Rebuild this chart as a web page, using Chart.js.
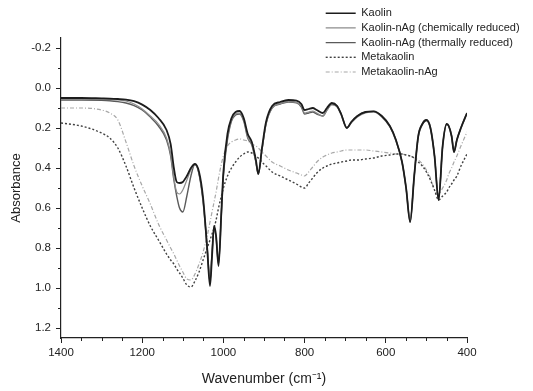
<!DOCTYPE html>
<html>
<head>
<meta charset="utf-8">
<script src="https://cdn.jsdelivr.net/npm/chart.js@4/dist/chart.umd.min.js"></script>
<style>
    html, body { margin: 0; padding: 0; background: #fff; }
    #wrap { width: 533px; height: 391px; }
</style>
</head>
<body>
<div id="wrap"><canvas id="irChart" width="533" height="391"></canvas></div>
<script>
const wavenumbers = [1400, 1350, 1300, 1280, 1260, 1240, 1220, 1200, 1180, 1160,
    1140, 1130, 1122, 1115, 1108, 1100, 1090, 1080, 1070, 1060,
    1050, 1040, 1033, 1028, 1023, 1018, 1012, 1005, 1000, 990,
    980, 970, 960, 950, 940, 930, 920, 914, 905, 895,
    880, 860, 840, 820, 808, 800, 790, 780, 770, 755,
    745, 733, 720, 710, 696, 685, 670, 650, 630, 610,
    590, 575, 560, 550, 540, 530, 520, 510, 500, 490,
    480, 470, 460, 450, 445, 438, 432, 425, 415, 400];

const kaolin = [0.050, 0.050, 0.052, 0.053, 0.055, 0.058, 0.066, 0.083, 0.11, 0.15,
    0.21, 0.28, 0.40, 0.47, 0.475, 0.47, 0.44, 0.40, 0.38, 0.42,
    0.55, 0.80, 0.99, 0.84, 0.69, 0.74, 0.89, 0.62, 0.42, 0.23,
    0.15, 0.12, 0.115, 0.15, 0.23, 0.27, 0.36, 0.43, 0.30, 0.17,
    0.09, 0.07, 0.06, 0.063, 0.08, 0.11, 0.105, 0.10, 0.11, 0.125,
    0.10, 0.075, 0.09, 0.13, 0.20, 0.17, 0.14, 0.12, 0.117, 0.14,
    0.19, 0.26, 0.37, 0.50, 0.67, 0.44, 0.24, 0.18, 0.16, 0.20,
    0.34, 0.56, 0.29, 0.18, 0.19, 0.24, 0.32, 0.26, 0.20, 0.125];

const kaolinChem = [0.055, 0.055, 0.057, 0.058, 0.060, 0.065, 0.080, 0.105, 0.14, 0.18,
    0.25, 0.33, 0.45, 0.52, 0.53, 0.51, 0.46, 0.41, 0.385, 0.43,
    0.56, 0.79, 0.95, 0.82, 0.70, 0.74, 0.87, 0.62, 0.43, 0.25,
    0.16, 0.13, 0.125, 0.16, 0.245, 0.28, 0.37, 0.43, 0.31, 0.18,
    0.10, 0.078, 0.068, 0.072, 0.09, 0.125, 0.12, 0.115, 0.125, 0.14,
    0.11, 0.085, 0.095, 0.135, 0.20, 0.175, 0.145, 0.125, 0.12, 0.145,
    0.195, 0.265, 0.37, 0.50, 0.66, 0.44, 0.245, 0.185, 0.165, 0.205,
    0.34, 0.55, 0.29, 0.185, 0.19, 0.24, 0.31, 0.26, 0.20, 0.13];

const kaolinThermal = [0.060, 0.060, 0.062, 0.064, 0.068, 0.075, 0.088, 0.11, 0.145, 0.19,
    0.26, 0.34, 0.46, 0.54, 0.60, 0.62, 0.54, 0.44, 0.38, 0.43,
    0.57, 0.80, 0.97, 0.83, 0.70, 0.75, 0.88, 0.63, 0.44, 0.26,
    0.165, 0.135, 0.13, 0.165, 0.25, 0.285, 0.37, 0.43, 0.31, 0.18,
    0.10, 0.08, 0.07, 0.074, 0.095, 0.13, 0.125, 0.12, 0.13, 0.14,
    0.11, 0.08, 0.09, 0.13, 0.20, 0.17, 0.14, 0.12, 0.117, 0.14,
    0.19, 0.26, 0.37, 0.50, 0.67, 0.44, 0.24, 0.18, 0.16, 0.20,
    0.34, 0.56, 0.29, 0.18, 0.19, 0.24, 0.32, 0.26, 0.20, 0.125];

const metakaolin = [0.175, 0.19, 0.225, 0.25, 0.30, 0.39, 0.50, 0.60, 0.69, 0.76,
    0.83, 0.86, 0.88, 0.905, 0.925, 0.95, 0.985, 0.995, 0.965, 0.92,
    0.86, 0.80, 0.76, 0.73, 0.70, 0.66, 0.60, 0.54, 0.50, 0.44,
    0.40, 0.37, 0.345, 0.33, 0.32, 0.325, 0.34, 0.35, 0.37, 0.39,
    0.42, 0.44, 0.46, 0.48, 0.495, 0.50, 0.475, 0.45, 0.425, 0.40,
    0.39, 0.38, 0.375, 0.37, 0.365, 0.36, 0.36, 0.355, 0.35, 0.34,
    0.335, 0.33, 0.33, 0.335, 0.34, 0.35, 0.37, 0.39, 0.42, 0.46,
    0.51, 0.56, 0.54, 0.52, 0.50, 0.48, 0.46, 0.44, 0.39, 0.33];

const metakaolinAg = [0.10, 0.10, 0.11, 0.125, 0.16, 0.27, 0.39, 0.49, 0.58, 0.68,
    0.76, 0.80, 0.83, 0.86, 0.89, 0.92, 0.955, 0.96, 0.93, 0.88,
    0.82, 0.74, 0.67, 0.62, 0.57, 0.52, 0.45, 0.38, 0.34, 0.29,
    0.27, 0.26, 0.255, 0.26, 0.265, 0.28, 0.29, 0.30, 0.32, 0.34,
    0.37, 0.39, 0.41, 0.425, 0.435, 0.44, 0.42, 0.395, 0.37, 0.345,
    0.335, 0.325, 0.32, 0.315, 0.31, 0.31, 0.31, 0.31, 0.315, 0.32,
    0.325, 0.33, 0.33, 0.335, 0.34, 0.35, 0.36, 0.38, 0.41, 0.45,
    0.51, 0.53, 0.50, 0.46, 0.43, 0.40, 0.37, 0.34, 0.29, 0.22];

const seriesNames = ['Kaolin', 'Kaolin-nAg (chemically reduced)', 'Kaolin-nAg (thermally reduced)', 'Metakaolin', 'Metakaolin-nAg'];
const xTicks = [1400, 1200, 1000, 800, 600, 400];
const yTicks = [-0.2, 0.0, 0.2, 0.4, 0.6, 0.8, 1.0, 1.2];

function toPoints(values) {
    return wavenumbers.map((w, i) => ({x: w, y: values[i]}));
}

function makeDataset(name, values, color, width, dash) {
    return {
        label: name,
        data: toPoints(values),
        borderColor: color,
        backgroundColor: color,
        borderWidth: width,
        borderDash: dash,
        pointRadius: 0,
        fill: false,
        cubicInterpolationMode: 'monotone'
    };
}

// legend samples take dash + width from the dataset, not from the (hidden) points
function legendLabels(chart) {
    const items = Chart.defaults.plugins.legend.labels.generateLabels(chart);
    items.forEach(item => {
        const ds = chart.data.datasets[item.datasetIndex];
        item.lineDash = ds.borderDash;
        item.strokeStyle = ds.borderColor;
        item.lineWidth = Math.min(ds.borderWidth, 1.4);
    });
    return items;
}

// minor ticks every 50 cm-1 and every 0.1 absorbance
const minorTicks = {
    id: 'minorTicks',
    afterDraw(chart) {
        const {ctx, scales: {x, y}} = chart;
        ctx.save();
        ctx.strokeStyle = '#222';
        ctx.lineWidth = 1;
        ctx.beginPath();
        for (let w = 450; w < 1400; w += 50) {
            if (w % 200 === 0) continue;
            const px = Math.round(x.getPixelForValue(w)) + 0.5;
            ctx.moveTo(px, x.top);
            ctx.lineTo(px, x.top + 3);
        }
        for (let k = -1; k <= 11; k += 2) {
            const py = Math.round(y.getPixelForValue(k / 10)) + 0.5;
            ctx.moveTo(y.right, py);
            ctx.lineTo(y.right - 3, py);
        }
        ctx.stroke();
        ctx.restore();
    }
};

// move the legend to the top right corner
const legendPlacer = {
    id: 'legendPlacer',
    afterLayout(chart) {
        const lg = chart.legend;
        lg.left = 322;
        lg.top = 4;
        lg.right = lg.left + lg.width;
        lg.bottom = lg.top + lg.height;
    }
};

Chart.defaults.font.family = '"Liberation Sans", Arial, sans-serif';
Chart.defaults.color = '#222';

const ctx = document.getElementById('irChart').getContext('2d');
new Chart(ctx, {
    type: 'line',
    data: {
        datasets: [
            makeDataset(seriesNames[0], kaolin, '#1c1c1c', 1.8, []),
            makeDataset(seriesNames[1], kaolinChem, '#8c8c8c', 1.2, []),
            makeDataset(seriesNames[2], kaolinThermal, '#5a5a5a', 1.4, []),
            makeDataset(seriesNames[3], metakaolin, '#404040', 1.4, [2, 2]),
            makeDataset(seriesNames[4], metakaolinAg, '#a8a8a8', 1.2, [4, 2, 1, 2])
        ]
    },
    options: {
        responsive: false,
        devicePixelRatio: 1,
        animation: false,
        layout: {padding: {top: 38, right: 66, left: 0, bottom: 0}},
        plugins: {
            tooltip: {enabled: false},
            legend: {
                position: 'chartArea',
                align: 'start',
                labels: {
                    usePointStyle: true,
                    pointStyle: 'line',
                    pointStyleWidth: 30,
                    padding: 3.7,
                    font: {size: 11},
                    color: '#222',
                    generateLabels: legendLabels
                }
            }
        },
        scales: {
            x: {
                type: 'linear',
                reverse: true,
                min: 400,
                max: 1400,
                afterBuildTicks: axis => { axis.ticks = xTicks.map(v => ({value: v})); },
                afterFit: axis => { axis.height = 53; },
                ticks: {
                    font: {size: 11.5},
                    padding: 3,
                    maxRotation: 0,
                    callback: v => String(v)
                },
                grid: {drawOnChartArea: false, drawTicks: true, tickLength: 5, tickColor: '#222', tickWidth: 1},
                border: {display: true, color: '#222', width: 1.2},
                title: {display: true, text: 'Wavenumber (cm\u207B\u00B9)', font: {size: 14}, padding: {top: 0, bottom: 3.6}}
            },
            y: {
                type: 'linear',
                reverse: true,
                min: -0.25,
                max: 1.25,
                afterBuildTicks: axis => { axis.ticks = yTicks.map(v => ({value: v})); },
                afterFit: axis => { axis.width = 61; },
                ticks: {
                    font: {size: 11.5},
                    padding: 5,
                    callback: v => v.toFixed(1)
                },
                grid: {drawOnChartArea: false, drawTicks: true, tickLength: 5, tickColor: '#222', tickWidth: 1},
                border: {display: true, color: '#222', width: 1.2},
                title: {display: true, text: 'Absorbance', font: {size: 13}, padding: {top: 9, bottom: 0}}
            }
        }
    },
    plugins: [minorTicks, legendPlacer]
});
</script>
</body>
</html>
